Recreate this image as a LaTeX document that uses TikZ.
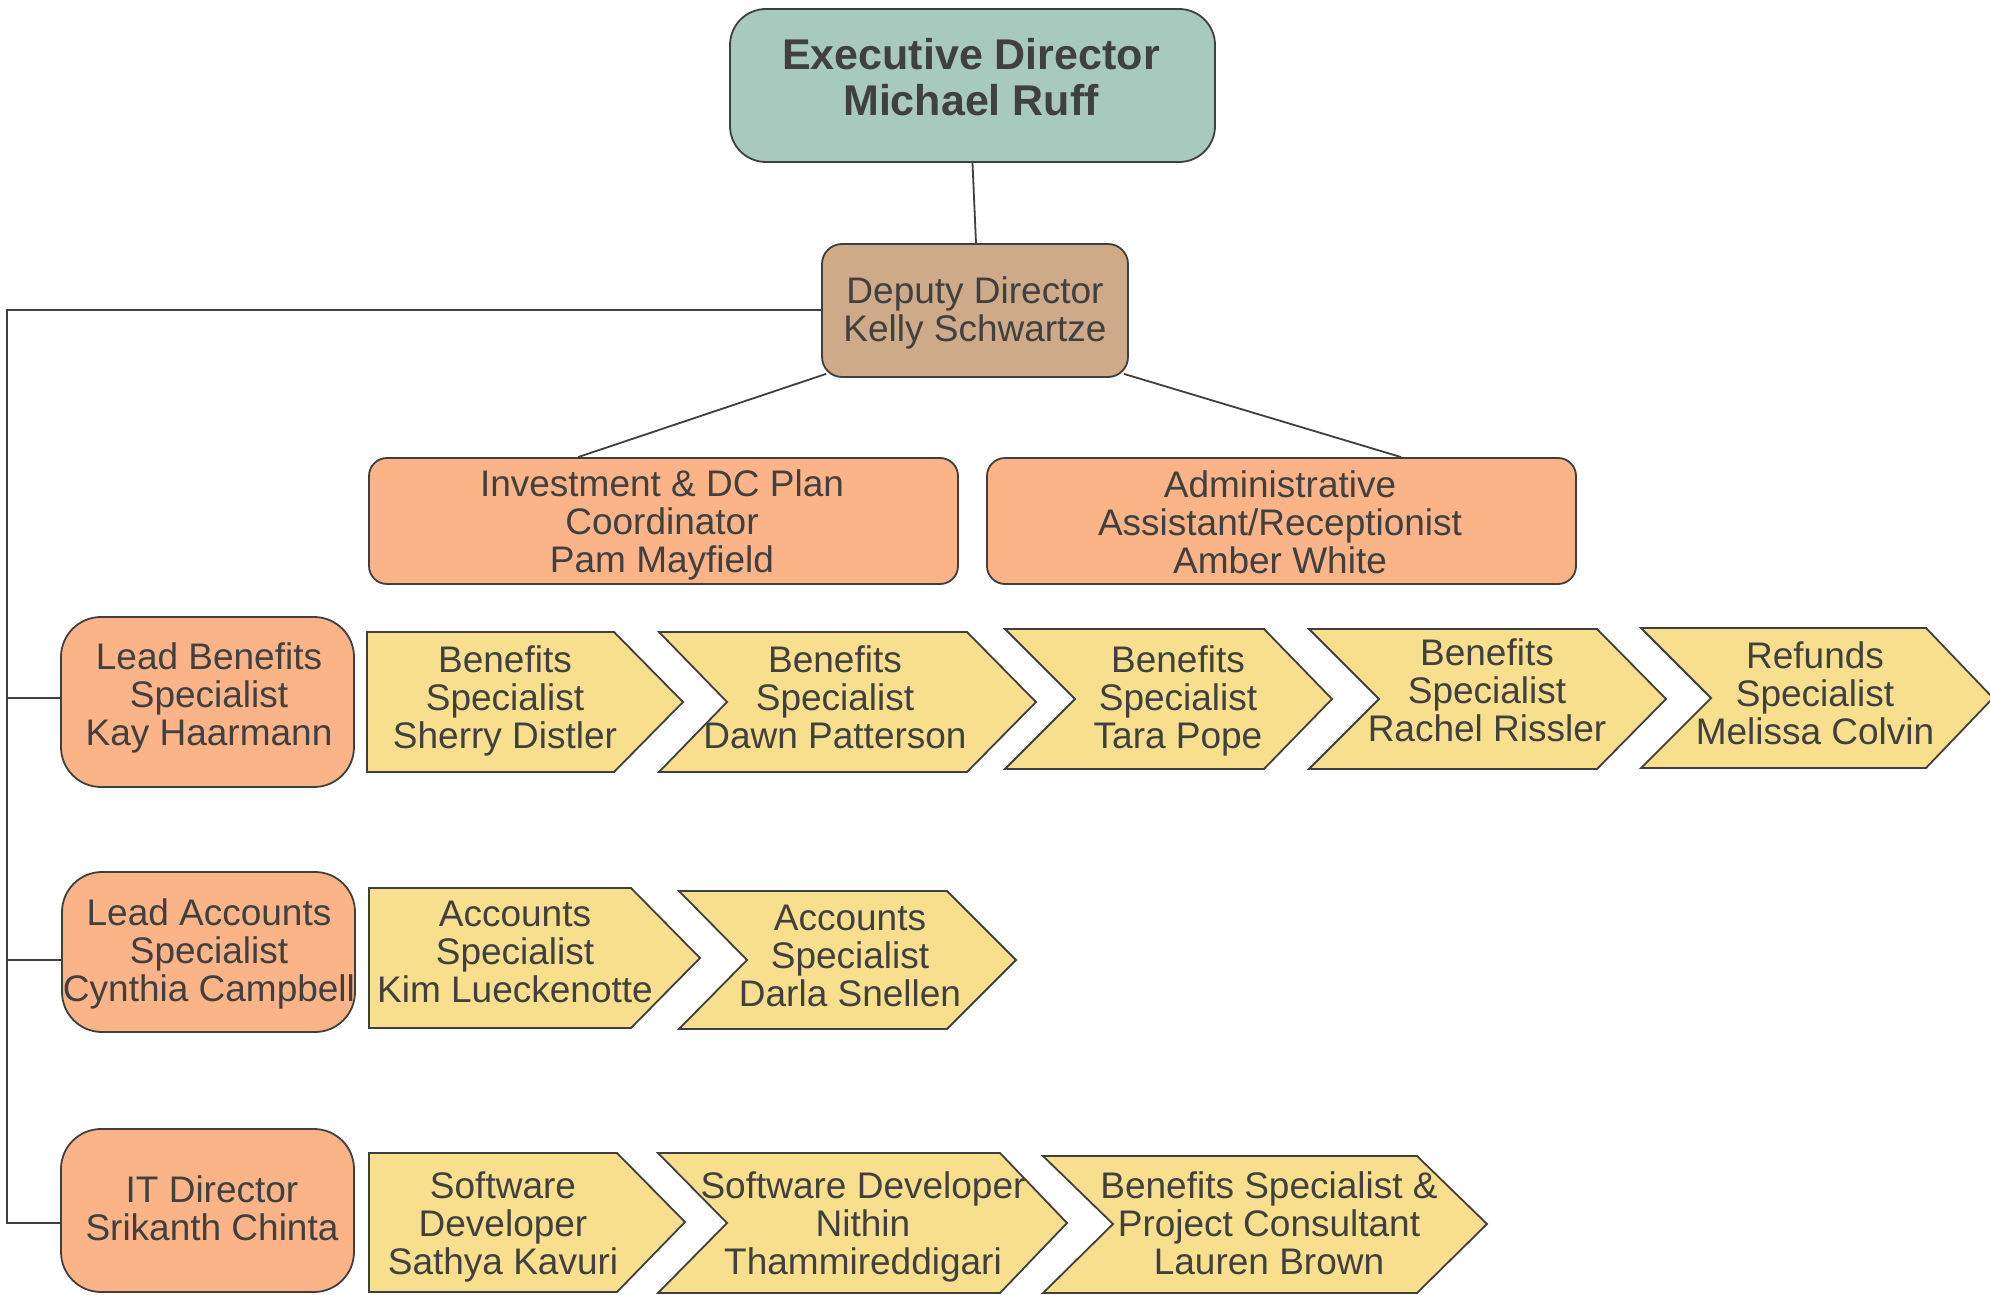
\documentclass[tikz,border=0pt]{standalone}
\usepackage{fontspec}
\setmainfont{Liberation Sans}
\usetikzlibrary{calc}
\definecolor{txt}{HTML}{404040}
\definecolor{edge}{HTML}{3F3F3F}
\definecolor{execfill}{HTML}{A8CABE}
\definecolor{depfill}{HTML}{CFAA88}
\definecolor{orgfill}{HTML}{FAB488}
\definecolor{yelfill}{HTML}{F8DF8D}
\begin{document}
\begin{tikzpicture}[x=1pt,y=-1pt,
  boxbase/.style={draw=edge,line width=1.8pt,inner sep=0pt},
  execbox/.style={boxbase,fill=execfill,rounded corners=36pt,minimum width=485pt,minimum height=153pt},
  depbox/.style={boxbase,fill=depfill,rounded corners=20pt,minimum width=306pt,minimum height=133pt},
  midbox/.style={boxbase,fill=orgfill,rounded corners=18pt,minimum width=589pt,minimum height=126pt},
  leadbox/.style={boxbase,fill=orgfill,rounded corners=40pt,minimum width=293pt},
  chevshape/.style={draw=edge,line width=1.8pt,fill=yelfill,line join=miter},
  label/.style={text=txt,inner sep=0pt,align=center,font=\fontsize{37}{38}\selectfont,
    execute at begin node=\strut,execute at end node=\strut},
  execlabel/.style={label,font=\fontsize{43}{46}\selectfont\bfseries},
  conn/.style={draw=edge,line width=1.8pt}
]
\useasboundingbox (0,0) rectangle (1990,1295);

% ---- main boxes ----
\node[execbox] (exec) at (972.5,85.5) {};
\node[execlabel] (exect) at (971,83.8) {Executive Director\\Michael Ruff};
\node[depbox] (dep) at (975,310.5) {};
\node[label] (dept) at (975,314.7) {Deputy Director\\Kelly Schwartze};
\node[midbox] (inv) at (663.5,521) {};
\node[label] (invt) at (662,526.4) {Investment \& DC Plan\\Coordinator\\Pam Mayfield};
\node[midbox] (adm) at (1281.5,521) {};
\node[label] (admt) at (1280,528) {Administrative\\Assistant/Receptionist\\Amber White};
\node[leadbox,minimum height=170pt] (ben) at (207.5,702) {};
\node[label] (bent) at (209,699.7) {Lead Benefits\\Specialist\\Kay Haarmann};
\node[leadbox,minimum height=160pt] (acc) at (208.5,952) {};
\node[label] (acct) at (209,955.6) {Lead Accounts\\Specialist\\Cynthia Campbell};
\node[leadbox,minimum height=163pt] (it) at (207.5,1210.5) {};
\node[label] (itt) at (212,1213.4) {IT Director\\Srikanth Chinta};

% ---- connectors ----
\coordinate (trunktop) at (7,310);
\coordinate (trunkbot) at (7,1223);
\coordinate (accj) at (7,960);
\coordinate (benj) at (7,698);
\draw[conn] (exec.south) -- ($(dep.north)+(1,0)$);
\draw[conn] ($(dep.south west)+(5,-4)$) -- ($(inv.north west)+(210,0)$);
\draw[conn] ($(dep.south east)+(-5,-4)$) -- ($(adm.north west)+(415,0)$);
\draw[conn] (dep.west |- trunktop) -- (trunktop) -- (trunkbot) -- (it.west |- trunkbot);
\draw[conn] (benj) -- (ben.west |- benj);
\draw[conn] (accj) -- (acc.west |- accj);

% ---- row 1 chevrons ----
\draw[chevshape] (367,632) -- (614,632) -- (683,702) -- (614,772) -- (367,772) -- cycle;
\node[label] (c1) at (505,702.4) {Benefits\\Specialist\\Sherry Distler};
\draw[chevshape] (659,632) -- (967,632) -- (1036,702) -- (967,772) -- (659,772) -- (727,702) -- cycle;
\node[label] (c2) at (835,702.4) {Benefits\\Specialist\\Dawn Patterson};
\draw[chevshape] (1005,629) -- (1264,629) -- (1332,699) -- (1264,769) -- (1005,769) -- (1075,699) -- cycle;
\node[label] (c3) at (1178,702.4) {Benefits\\Specialist\\Tara Pope};
\draw[chevshape] (1309,629) -- (1597,629) -- (1666,699) -- (1597,769) -- (1309,769) -- (1379,699) -- cycle;
\node[label] (c4) at (1487,695.7) {Benefits\\Specialist\\Rachel Rissler};
\draw[chevshape] (1641,628) -- (1926,628) -- (1993,698) -- (1926,768) -- (1641,768) -- (1711,698) -- cycle;
\node[label] (c5) at (1815,698.6) {Refunds\\Specialist\\Melissa Colvin};

% ---- row 2 chevrons ----
\draw[chevshape] (369,888) -- (631,888) -- (700,958) -- (631,1028) -- (369,1028) -- cycle;
\node[label] (c6) at (515,957.4) {Accounts\\Specialist\\Kim Lueckenotte};
\draw[chevshape] (679,891) -- (947,891) -- (1016,960) -- (947,1029) -- (679,1029) -- (747,960) -- cycle;
\node[label] (c7) at (850,961.2) {Accounts\\Specialist\\Darla Snellen};

% ---- row 3 chevrons ----
\draw[chevshape] (369,1153) -- (617,1153) -- (685,1222) -- (617,1292) -- (369,1292) -- cycle;
\node[label] (c8) at (503,1229) {Software\\Developer\\Sathya Kavuri};
\draw[chevshape] (658,1153) -- (1000,1153) -- (1067,1223) -- (1000,1293) -- (658,1293) -- (727,1223) -- cycle;
\node[label] (c9) at (863,1229) {Software Developer\\Nithin\\Thammireddigari};
\draw[chevshape] (1043,1156) -- (1417,1156) -- (1487,1224) -- (1417,1293) -- (1043,1293) -- (1113,1224) -- cycle;
\node[label] (c10) at (1269,1229) {Benefits Specialist \&\\Project Consultant\\Lauren Brown};
\end{tikzpicture}
\end{document}
